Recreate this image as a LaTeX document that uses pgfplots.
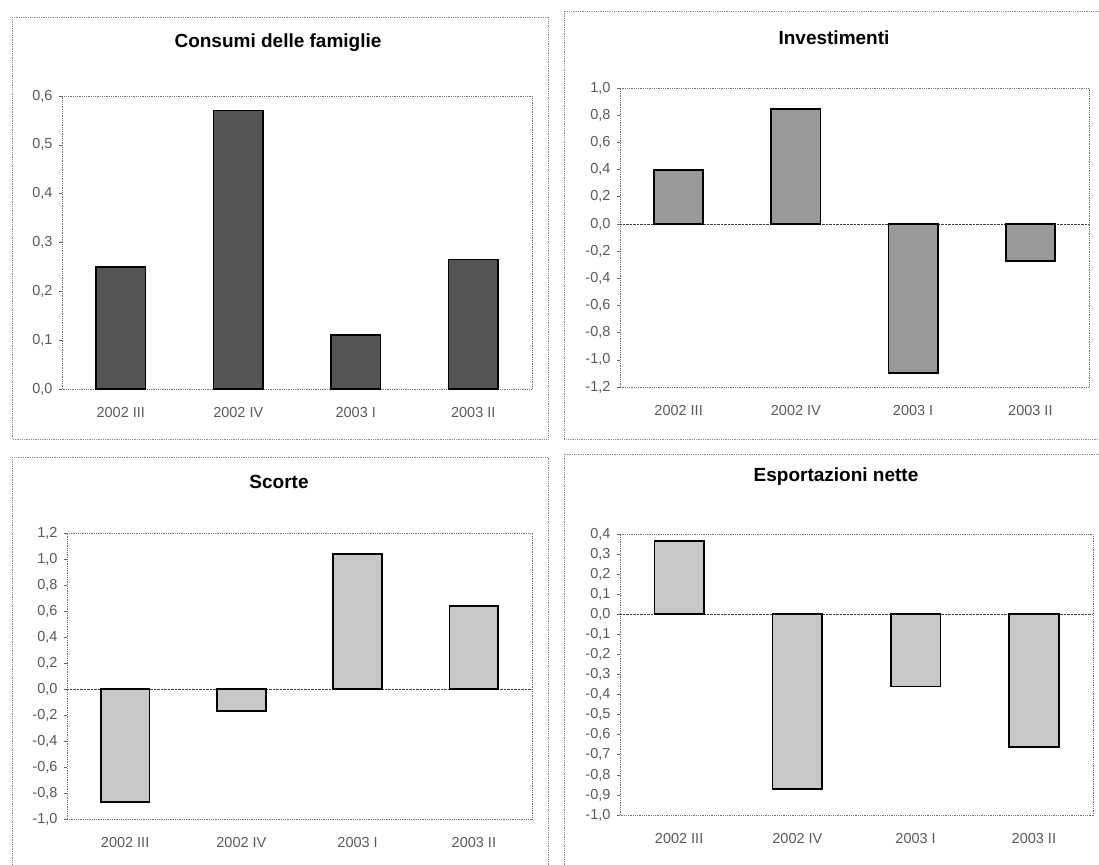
\documentclass[border=0pt]{standalone}
\usepackage{fontspec}
\setmainfont{Liberation Sans}
\usepackage{pgfplots}
\pgfplotsset{compat=1.18}

% stile comune dei quattro pannelli
\pgfplotsset{
  pannello/.style={
    scale only axis, anchor=north west,
    xmin=-0.5, xmax=3.5,
    xtick={0,1,2,3},
    xticklabels={2002 III, 2002 IV, 2003 I, 2003 II},
    axis line style={black!55, densely dotted, line width=0.8pt},
    xtick style={draw=none},
    ytick pos=left,
    ytick style={black!60, line width=0.6pt, solid},
    tick align=outside, major tick length=3pt,
    tick label style={font=\fontsize{14.5}{17}\selectfont, text=black!65},
    xticklabel style={yshift=-12pt},
    yticklabel style={xshift=-3pt},
    /pgf/number format/.cd, use comma, fixed, fixed zerofill, precision=1,
      assume math mode=true, /pgfplots/.cd,
    ybar, bar width=0.42, bar shift=0pt,
  },
  zero/.style={
    extra y ticks={0}, extra y tick labels={},
    extra y tick style={grid=major, major tick length=0pt,
      major grid style={black!75, densely dotted, line width=0.8pt}},
  },
  barre/.style={draw=black, line width=1.6pt, fill=#1},
}
\definecolor{scuro}{gray}{0.33}
\definecolor{medio}{gray}{0.60}
\definecolor{chiaro}{gray}{0.78}

\begin{document}
\begin{tikzpicture}
\useasboundingbox (0,0) rectangle (1099pt,-864pt);
\tikzset{cornice/.style={black!45, densely dotted, line width=0.8pt},
         titolo/.style={font=\bfseries\fontsize{19}{22}\selectfont}}

\draw[cornice] (12pt,-17pt) rectangle (548pt,-439pt);
\draw[cornice] (564pt,-11pt) rectangle (1110pt,-439pt);
\draw[cornice] (12pt,-457pt) rectangle (548pt,-880pt);
\draw[cornice] (564pt,-454pt) rectangle (1110pt,-880pt);

\node[titolo] at (278pt,-43pt) {Consumi delle famiglie};
\node[titolo] at (834pt,-38pt) {Investimenti};
\node[titolo] at (279pt,-482pt) {Scorte};
\node[titolo] at (836pt,-477pt) {Esportazioni nette};

% Consumi delle famiglie
\begin{axis}[pannello, at={(62pt,-96pt)}, width=470pt, height=293pt,
  ymin=0, ymax=0.6, ytick={0,0.1,...,0.6}]
\addplot[barre=scuro] coordinates {(0,0.25) (1,0.57) (2,0.11) (3,0.265)};
\end{axis}

% Investimenti
\begin{axis}[pannello, zero, at={(620pt,-88pt)}, width=469pt, height=299pt,
  ymin=-1.2, ymax=1.0, ytick={-1.2,-1.0,...,1.0}]
\addplot[barre=medio] coordinates {(0,0.395) (1,0.845) (2,-1.095) (3,-0.275)};
\end{axis}

% Scorte
\begin{axis}[pannello, zero, at={(67pt,-533pt)}, width=465pt, height=286pt,
  ymin=-1.0, ymax=1.2, ytick={-1.0,-0.8,...,1.2}]
\addplot[barre=chiaro] coordinates {(0,-0.87) (1,-0.17) (2,1.04) (3,0.64)};
\end{axis}

% Esportazioni nette
\begin{axis}[pannello, zero, at={(620pt,-534pt)}, width=473pt, height=281pt,
  ymin=-1.0, ymax=0.4, ytick={-1.0,-0.9,...,0.4}]
\addplot[barre=chiaro] coordinates {(0,0.365) (1,-0.87) (2,-0.36) (3,-0.66)};
\end{axis}
\end{tikzpicture}
\end{document}
